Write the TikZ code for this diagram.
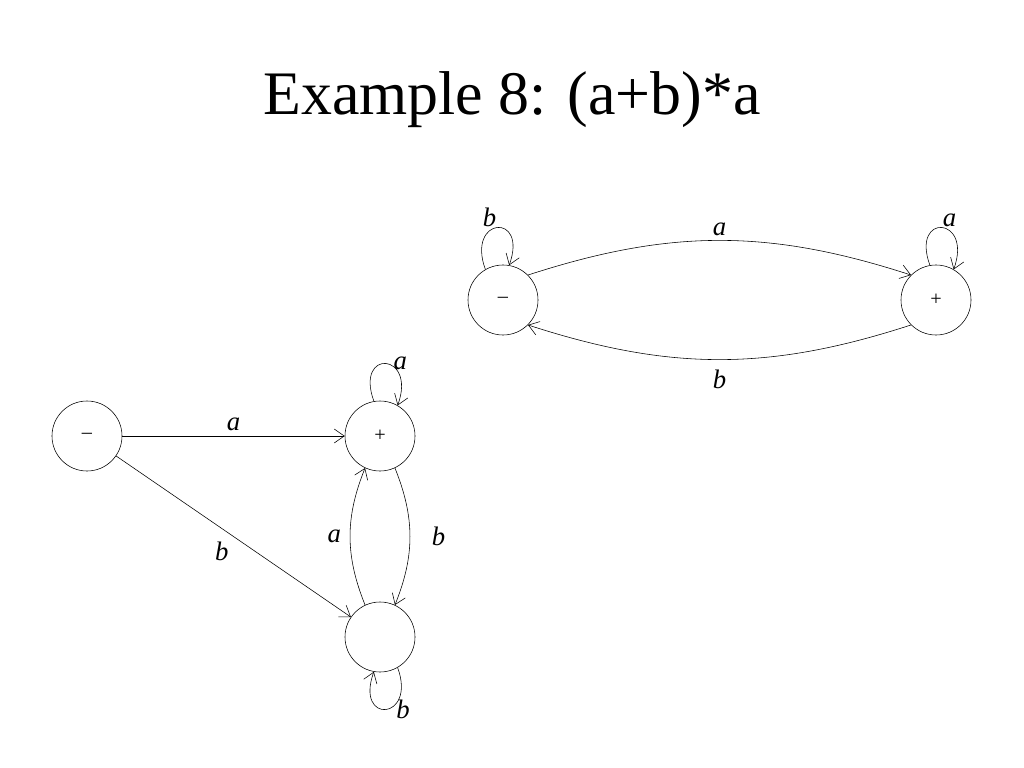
\documentclass[tikz,border=0pt]{standalone}
\usepackage{fontspec}
\setmainfont{Liberation Serif}
\usetikzlibrary{positioning,arrows.meta}

\begin{document}
\begin{tikzpicture}[x=0.025cm,y=-0.025cm,
  every node/.style={align=center},%
  st/.style={circle,draw,thin,minimum size=1.75cm,inner sep=0pt,font=\Large},%
  e/.style={-{Straight Barb[length=2.5mm,width=3.5mm]},thin},%
  lb/.style={font=\itshape\fontsize{19}{19}\selectfont},%
  lp/.style={e,looseness=6},%
  ]
  \useasboundingbox (0,0) rectangle (1024,768);

  \node (title) at (512,100) {\fontsize{44}{44}\selectfont Example 8: (a+b)*a};

  % first machine
  \node (s1) [st] at (503,300) {--};
  \node (f1) [st] at (936,300) {+};

  \draw [e] (s1.45) to[bend left=18] node [lb,above] {a} (f1.135);
  \draw [e] (f1.-135) to[bend left=18] node [lb,below=4pt] {b} (s1.-45);
  \draw [lp] (s1.120) to[out=110,in=70] node [lb,above left=-4pt] {b} (s1.80);
  \draw [lp] (f1.100) to[out=110,in=70] node [lb,above right=-4pt] {a} (f1.60);

  % second machine
  \node (s2) [st] at (87,436) {--};
  \node (f2) [st] at (380,436) {+};
  \node (m2) [st] at (380,637) {};

  \draw [e] (s2) -- (f2) node [lb,midway,above] {a};
  \draw [e] (s2) -- (m2) node [lb,midway,below left] {b};
  \draw [e] (m2.115) to[bend left=22] node [lb,left=3pt] {a} (f2.-115);
  \draw [e] (f2.-65) to[bend left=22] node [lb,right=12pt] {b} (m2.65);
  \draw [lp] (f2.100) to[out=110,in=70] node [lb,right=2pt] {a} (f2.60);
  \draw [lp] (m2.-60) to[out=-70,in=-110] node [lb,right=4pt] {b} (m2.-100);
\end{tikzpicture}
\end{document}
